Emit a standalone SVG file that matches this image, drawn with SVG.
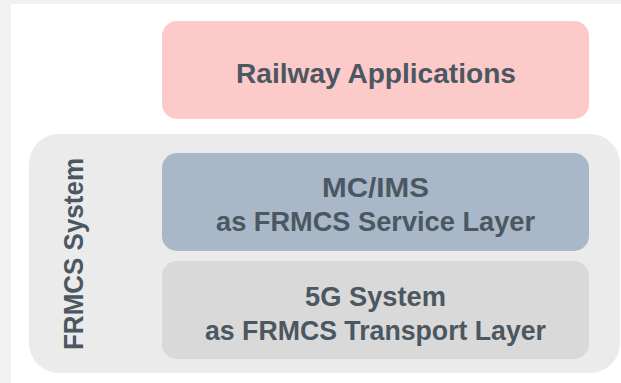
<svg xmlns="http://www.w3.org/2000/svg" width="621" height="383" viewBox="0 0 621 383">
  <style>
    .lbl { font-family: "Liberation Sans", Arial, sans-serif; font-weight: bold; font-size: 27px; fill: #4b5761; text-anchor: middle; }
  </style>
  <rect x="0" y="0" width="621" height="383" fill="#f1f1f1"/>
  <rect x="11" y="4" width="610" height="379" fill="#ffffff"/>

  <g id="railway-applications">
    <rect x="162" y="21" width="427" height="98" rx="15" fill="#fdcaca"/>
    <text class="lbl" x="376" y="83" textLength="280" lengthAdjust="spacingAndGlyphs">Railway Applications</text>
  </g>

  <g id="frmcs-system">
    <rect x="29" y="134" width="591" height="239" rx="30" fill="#ebebeb"/>
    <text class="lbl" transform="translate(83,254) rotate(-90)" x="0" y="0" textLength="192" lengthAdjust="spacingAndGlyphs">FRMCS System</text>
  </g>

  <g id="service-layer">
    <rect x="162" y="153" width="427" height="98" rx="15" fill="#a8b8c9"/>
    <text class="lbl" x="375.5" y="197" textLength="107" lengthAdjust="spacingAndGlyphs">MC/IMS</text>
    <text class="lbl" x="375.5" y="231" textLength="319" lengthAdjust="spacingAndGlyphs">as FRMCS Service Layer</text>
  </g>

  <g id="transport-layer">
    <rect x="162" y="261" width="427" height="98" rx="15" fill="#d9d9d9"/>
    <text class="lbl" x="375.5" y="306" textLength="141" lengthAdjust="spacingAndGlyphs">5G System</text>
    <text class="lbl" x="375.5" y="340" textLength="341" lengthAdjust="spacingAndGlyphs">as FRMCS Transport Layer</text>
  </g>
</svg>
